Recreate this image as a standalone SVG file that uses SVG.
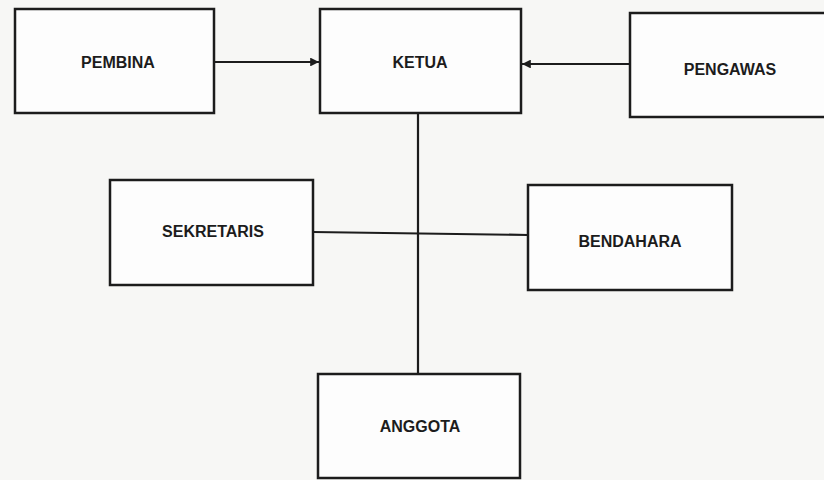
<svg xmlns="http://www.w3.org/2000/svg" width="824" height="480" viewBox="0 0 824 480">
<style>
.box{fill:#fdfdfd;stroke:#1c1c1c;stroke-width:2.5}
.lbl{font-family:"Liberation Sans",Arial,sans-serif;font-weight:bold;font-size:16px;fill:#1c1c1c;text-anchor:middle}
.con{stroke:#1c1c1c;stroke-width:2.2;fill:none}
</style>
<defs>
<marker id="arr" viewBox="0 0 10 10" refX="10" refY="5" markerWidth="4" markerHeight="4" orient="auto" markerUnits="strokeWidth">
<path d="M0,0 L10,5 L0,10 Z" fill="#1c1c1c"/>
</marker>
</defs>
<rect width="824" height="480" fill="#f7f7f5"/>
<g id="connectors">
<line class="con" x1="215" y1="62" x2="319" y2="62" marker-end="url(#arr)"/>
<line class="con" x1="630" y1="64" x2="522" y2="64" marker-end="url(#arr)"/>
<line class="con" x1="418" y1="113" x2="418" y2="374"/>
<line class="con" x1="313" y1="232" x2="528" y2="235"/>
</g>
<g id="pembina"><rect class="box" x="15" y="9" width="199" height="104"/><text class="lbl" x="118" y="68">PEMBINA</text></g>
<g id="ketua"><rect class="box" x="320" y="9" width="201" height="104"/><text class="lbl" x="420" y="68">KETUA</text></g>
<g id="pengawas"><rect class="box" x="630" y="13" width="200" height="104"/><text class="lbl" x="730" y="75">PENGAWAS</text></g>
<g id="sekretaris"><rect class="box" x="110" y="180" width="203" height="105"/><text class="lbl" x="213" y="237">SEKRETARIS</text></g>
<g id="bendahara"><rect class="box" x="528" y="185" width="204" height="105"/><text class="lbl" x="630" y="247">BENDAHARA</text></g>
<g id="anggota"><rect class="box" x="318" y="374" width="202" height="104"/><text class="lbl" x="420" y="432">ANGGOTA</text></g>
</svg>
